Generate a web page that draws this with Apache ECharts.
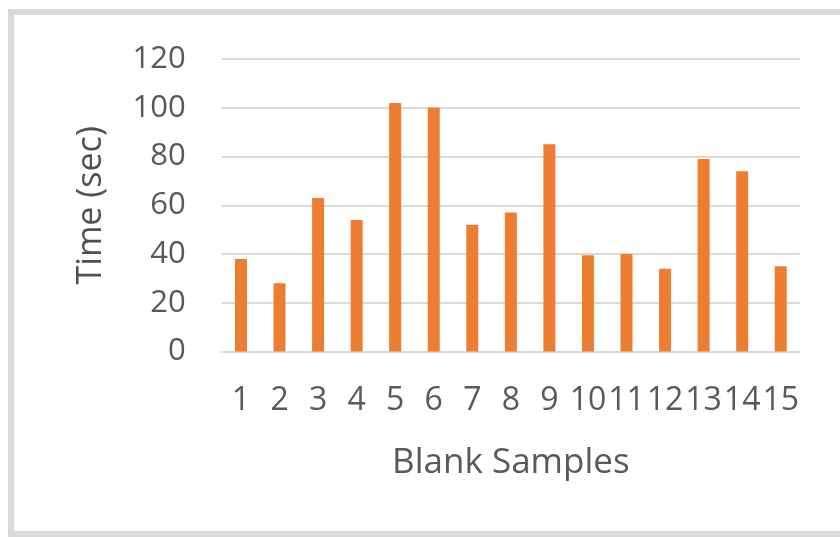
<!DOCTYPE html>
<html>
<head>
<meta charset="utf-8">
<script src="https://cdn.jsdelivr.net/npm/echarts@6/dist/echarts.min.js"></script>
<style>
  html, body { margin: 0; padding: 0; background: #ffffff; }
  #chart { width: 840px; height: 537px; }
</style>
</head>
<body>
<div id="chart"></div>
<script>
// Blank sample run times
const samples = ['1', '2', '3', '4', '5', '6', '7', '8', '9', '10', '11', '12', '13', '14', '15'];
const timeSec = [38, 28, 63, 54, 102, 100, 52, 57, 85, 39.5, 40, 34, 79, 74, 35];
const yTicks = { min: 0, max: 120, interval: 20 };

const textColor = '#595959';
const gridColor = '#d9d9d9';
const font = '"Open Sans", "Noto Sans", sans-serif';

const chart = echarts.init(document.getElementById('chart'), null, { renderer: 'canvas' });

chart.setOption({
  backgroundColor: '#ffffff',
  animation: false,
  graphic: [{
    type: 'rect',
    silent: true,
    shape: { x: 11, y: 12, width: 860, height: 522 },
    style: { fill: 'none', stroke: '#dadada', lineWidth: 6 }
  }],
  grid: { left: 221.7, right: 40, top: 59, bottom: 185.5 },
  xAxis: {
    type: 'category',
    data: samples,
    name: 'Blank Samples',
    nameLocation: 'middle',
    nameGap: 94,
    nameTextStyle: { color: textColor, fontSize: 35, fontFamily: font },
    axisLine: { show: true, lineStyle: { color: gridColor, width: 2 } },
    axisTick: { show: false },
    axisLabel: { interval: 0, color: textColor, fontSize: 32, fontFamily: font, margin: 33 }
  },
  yAxis: {
    type: 'value',
    min: yTicks.min,
    max: yTicks.max,
    interval: yTicks.interval,
    name: 'Time (sec)',
    nameLocation: 'middle',
    nameGap: 113,
    nameTextStyle: { color: '#505050', fontSize: 34, fontFamily: font },
    axisLine: { show: false },
    axisTick: { show: false },
    axisLabel: { color: textColor, fontSize: 31, fontFamily: font, margin: 36 },
    splitLine: { lineStyle: { color: gridColor, width: 2 } }
  },
  series: [{
    type: 'bar',
    data: timeSec,
    barWidth: 12,
    itemStyle: { color: '#ed7d31' }
  }]
});
</script>
</body>
</html>
